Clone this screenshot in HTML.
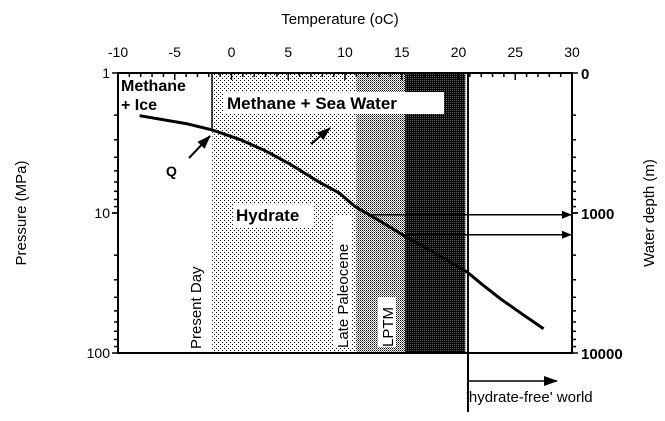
<!DOCTYPE html>
<html><head><meta charset="utf-8"><style>
html,body{margin:0;padding:0;background:#fff}
svg text{font-family:"Liberation Sans",sans-serif}
</style></head><body>
<svg id="c" width="665" height="416" viewBox="0 0 665 416" xmlns="http://www.w3.org/2000/svg">
<defs>
<pattern id="pLight" width="4" height="4" patternUnits="userSpaceOnUse"><rect width="4" height="4" fill="#fff"/><rect x="0" y="0" width="1" height="1" fill="#000"/><rect x="2" y="2" width="1" height="1" fill="#000"/></pattern>
<pattern id="pMed" width="2" height="2" patternUnits="userSpaceOnUse"><rect width="2" height="2" fill="#fff"/><rect x="0" y="0" width="1" height="1" fill="#000"/><rect x="1" y="1" width="1" height="1" fill="#777"/></pattern>
<pattern id="pDark" width="2" height="2" patternUnits="userSpaceOnUse"><rect width="2" height="2" fill="#000"/><rect x="0" y="0" width="1" height="1" fill="#666"/></pattern>
<marker id="ah" markerWidth="10" markerHeight="8" refX="9" refY="4" orient="auto" markerUnits="userSpaceOnUse"><path d="M0,0 L10,4 L0,8 Z" fill="#000"/></marker>
<marker id="ah2" markerWidth="14" markerHeight="10" refX="13" refY="5" orient="auto" markerUnits="userSpaceOnUse"><path d="M0,0 L14,5 L0,10 Z" fill="#000"/></marker>
</defs>
<g id="zones"></g>
<g id="annot">
<text x="340" y="24" text-anchor="middle" font-size="15">Temperature (oC)</text>
<text transform="translate(26,213) rotate(-90)" text-anchor="middle" font-size="15">Pressure (MPa)</text>
<text transform="translate(654,213) rotate(-90)" text-anchor="middle" font-size="15">Water depth (m)</text>
<rect x="119" y="74" width="93" height="46" fill="#fff"/>
<line x1="212" y1="73" x2="212" y2="128" stroke="#000" stroke-width="1.5"/>
<text x="121" y="91" font-size="16" font-weight="bold">Methane</text>
<text x="121" y="110" font-size="16" font-weight="bold">+ Ice</text>
<rect x="224" y="92" width="220" height="22" fill="#fff"/>
<text x="227" y="109" font-size="17" font-weight="bold">Methane + Sea Water</text>
<rect x="233" y="203" width="80" height="24" fill="#fff"/>
<text x="236" y="221" font-size="17" font-weight="bold">Hydrate</text>
<text x="166" y="176" font-size="14" font-weight="bold">Q</text>
<line x1="189" y1="158" x2="210" y2="136" stroke="#000" stroke-width="2" marker-end="url(#ah2)"/>
<line x1="311" y1="144" x2="330" y2="128" stroke="#000" stroke-width="2" marker-end="url(#ah2)"/>
<rect x="186" y="248" width="18" height="100" fill="#fff"/>
<text transform="translate(201,349) rotate(-90)" font-size="15">Present Day</text>
<rect x="333" y="215" width="18" height="132" fill="#fff"/>
<text transform="translate(348,348) rotate(-90)" font-size="15">Late Paleocene</text>
<rect x="378" y="297" width="18" height="50" fill="#fff"/>
<text transform="translate(393,347) rotate(-90)" font-size="15">LPTM</text>
<line x1="468" y1="381" x2="557" y2="381" stroke="#000" stroke-width="1.5" marker-end="url(#ah2)"/>
<text x="466" y="402" font-size="15">'hydrate-free' world</text>
</g>
<g id="axes"></g>
<g id="marks"></g>
</svg>
<script>
const tempTicks=[-10,-5,0,5,10,15,20,25,30];
const pressTicks=[1,10,100];
const depthLabels=["0","1000","10000"];
const depthTickP=[1,10,100];
const zoneBounds=[-1.7,11.0,15.3,20.6];
const zoneNames=["zone-present-day","zone-late-paleocene","zone-lptm"];
const curveT=[-8.1,-4,-1.7,0.8,3,5.2,7.7,9.5,10.9,13,15.3,18,20.8,22,23.7,25.5,27.5];
const curveP=[2.02,2.3,2.55,3.0,3.6,4.5,6.0,7.2,9.0,11.3,14.7,19.5,26.5,32,41,52,67];
const arrowP=[10.3,14.3];

const X0=118,X1=572,Y0=73,Y1=353;
const x=t=>X0+(t+10)/40*(X1-X0);
const y=p=>Y0+Math.log10(p)/2*(Y1-Y0);
const NS="http://www.w3.org/2000/svg";
function mk(tag,parent,attrs){const e=document.createElementNS(NS,tag);for(const k in attrs)e.setAttribute(k,attrs[k]);document.getElementById(parent).appendChild(e);return e;}

const fills=["url(#pLight)","url(#pMed)","url(#pDark)"];
for(let i=0;i<3;i++){
 const r=mk('rect','zones',{x:x(zoneBounds[i]),y:Y0,width:x(zoneBounds[i+1])-x(zoneBounds[i]),height:Y1-Y0,fill:fills[i]});
 
 
}
const fr=mk('rect','axes',{x:X0,y:Y0,width:X1-X0,height:Y1-Y0,fill:'none',stroke:'#000','stroke-width':2});


for(let t=-10;t<=30;t++){
 const major=t%5===0;
 mk('line','axes',{x1:x(t),x2:x(t),y1:Y0,y2:Y0+(major?7:4),stroke:'#000','stroke-width':1.5});
}
tempTicks.forEach(t=>{
 const e=mk('text','axes',{x:x(t),y:57,'text-anchor':'middle','font-size':14});
 e.textContent=t;
 
 
});
for(let d=0;d<2;d++)for(let m=1;m<=10;m++){
 const p=m*Math.pow(10,d);
 mk('line','axes',{x1:X0-(m===1||m===10?6:4),x2:X0,y1:y(p),y2:y(p),stroke:'#000','stroke-width':1.5});
}
pressTicks.forEach(p=>{
 const e=mk('text','axes',{x:X0-8,y:y(p)+5,'text-anchor':'end','font-size':14});
 e.textContent=p;
 
 
});
for(let d=0;d<2;d++)for(let m=1;m<=10;m++){
 const p=m*Math.pow(10,d);
 mk('line','axes',{x1:X1,x2:X1+(m===1||m===10?6:4),y1:y(p),y2:y(p),stroke:'#000','stroke-width':1.5});
}
depthTickP.forEach((p,i)=>{
 const e=mk('text','axes',{x:X1+9,y:y(p)+6,'font-size':15,'font-weight':'bold'});
 e.textContent=depthLabels[i];
 
 
});
const path=mk('path','marks',{d:curveT.map((t,i)=>(i?'L':'M')+x(t).toFixed(1)+','+y(curveP[i]).toFixed(1)).join(' '),fill:'none',stroke:'#000','stroke-width':3});


function tAt(p){for(let i=1;i<curveP.length;i++)if(curveP[i]>=p){const f=Math.log(p/curveP[i-1])/Math.log(curveP[i]/curveP[i-1]);return curveT[i-1]+f*(curveT[i]-curveT[i-1]);}return curveT[curveT.length-1];}
arrowP.forEach(p=>{
 const a=mk('line','marks',{x1:x(tAt(p)),x2:X1-1,y1:y(p),y2:y(p),stroke:'#000','stroke-width':1.5,'marker-end':'url(#ah)'});
 
 
});
const vl=mk('line','marks',{x1:468,x2:468,y1:Y0,y2:412,stroke:'#000','stroke-width':2});


</script>
</body></html>
